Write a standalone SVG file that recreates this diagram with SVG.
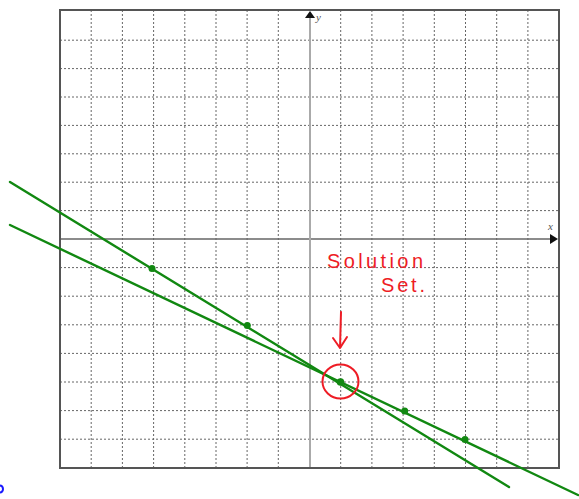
<svg xmlns="http://www.w3.org/2000/svg" width="579" height="499" viewBox="0 0 579 499">
<style>
.grid{stroke:#666;stroke-width:1;stroke-dasharray:2 2;fill:none}
.line{stroke:#118811;stroke-width:2.4;fill:none;stroke-linecap:round}
.pt{fill:#118811}
.red{stroke:#ee1c25;stroke-width:2;fill:none;stroke-linecap:round;stroke-linejoin:round}
.hand{font-family:"Liberation Sans",sans-serif;font-size:20px;fill:#ee1c25}
.lab{font-family:"Liberation Serif",serif;font-style:italic;font-size:11px;fill:#555}
</style>
<rect width="579" height="499" fill="#fff"/>
<g id="grid">
<path class="grid" d="M91.2 10V468M122.4 10V468M153.6 10V468M184.8 10V468M216 10V468M247.1 10V468M278.3 10V468M340.7 10V468M371.9 10V468M403.1 10V468M434.3 10V468M465.5 10V468M496.7 10V468M527.9 10V468"/>
<path class="grid" d="M60 40.2H559M60 68.6H559M60 97H559M60 125.4H559M60 153.8H559M60 182.2H559M60 210.6H559M60 267.6H559M60 296.2H559M60 324.8H559M60 353.4H559M60 382H559M60 410.6H559M60 439.2H559"/>
</g>
<g id="axes">
<line x1="60" y1="239" x2="553" y2="239" stroke="#666" stroke-width="1.5"/>
<polygon points="558,239 550,234 550,244" fill="#111"/>
<line x1="310" y1="468" x2="310" y2="16" stroke="#aaa" stroke-width="2"/>
<polygon points="310,11 305,18 315,18" fill="#111"/>
<text class="lab" x="316" y="21">y</text>
<text class="lab" x="548" y="230">x</text>
</g>
<rect id="frame" x="60" y="10" width="499" height="458" fill="none" stroke="#555" stroke-width="2"/>
<g id="connectors">
<line class="line" x1="10" y1="182" x2="509" y2="487"/>
<line class="line" x1="10" y1="225" x2="578" y2="495"/>
</g>
<g id="points">
<circle class="pt" cx="152" cy="268.5" r="3.5"/>
<circle class="pt" cx="247.3" cy="325.5" r="3.5"/>
<circle class="pt" cx="340.5" cy="382" r="3.8"/>
<circle class="pt" cx="404.7" cy="411" r="3.5"/>
<circle class="pt" cx="465" cy="439.5" r="3.5"/>
</g>
<g id="annotation">
<text class="hand" x="327" y="268" textLength="96" lengthAdjust="spacing">Solution</text>
<text class="hand" x="381" y="292" textLength="44" lengthAdjust="spacing">Set.</text>
<path class="red" d="M341 312 L340 348 M333 338 L340 348 L347 337"/>
<ellipse class="red" cx="340.5" cy="381.5" rx="18" ry="17"/>
</g>
<path d="M0 485.5 A3 3.5 0 0 1 0 492.5" stroke="#1b1bff" stroke-width="2" fill="none"/>
</svg>
